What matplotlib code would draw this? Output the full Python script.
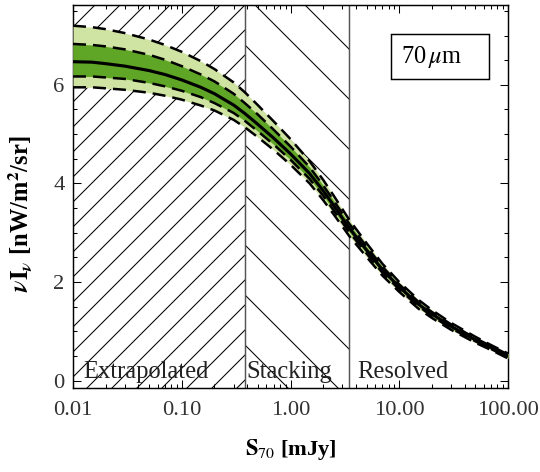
import matplotlib
matplotlib.use("Agg")
import matplotlib.pyplot as plt
from matplotlib.patches import Rectangle
from matplotlib.ticker import FixedLocator, FixedFormatter, MultipleLocator, LogLocator, NullFormatter

# ---------------- data ----------------
flux = [0.01, 0.015, 0.02, 0.03, 0.05, 0.07, 0.1, 0.15, 0.2, 0.3, 0.38, 0.5, 0.7,
        1.0, 1.5, 2.0, 2.5, 3.45, 5.0, 7.0, 10.0, 15.0, 20.0, 30.0, 50.0, 70.0, 100.0]
nuI_mid = [6.47, 6.46, 6.43, 6.38, 6.29, 6.21, 6.10, 5.95, 5.82, 5.59, 5.42, 5.20, 4.92,
           4.60, 4.20, 3.85, 3.55, 3.10, 2.65, 2.25, 1.90, 1.55, 1.35, 1.10, 0.83, 0.67, 0.50]
nuI_hi1 = [6.83, 6.81, 6.78, 6.72, 6.61, 6.51, 6.38, 6.21, 6.07, 5.82, 5.63, 5.40, 5.09,
           4.75, 4.33, 3.96, 3.65, 3.19, 2.72, 2.31, 1.95, 1.60, 1.39, 1.14, 0.86, 0.70, 0.53]
nuI_lo1 = [6.17, 6.17, 6.15, 6.12, 6.04, 5.97, 5.88, 5.75, 5.63, 5.43, 5.27, 5.06, 4.79,
           4.48, 4.09, 3.75, 3.45, 3.02, 2.58, 2.19, 1.85, 1.51, 1.31, 1.06, 0.80, 0.64, 0.47]
nuI_hi2 = [7.20, 7.17, 7.13, 7.05, 6.92, 6.81, 6.67, 6.48, 6.32, 6.05, 5.85, 5.59, 5.26,
           4.90, 4.45, 4.07, 3.75, 3.27, 2.79, 2.37, 2.00, 1.64, 1.43, 1.17, 0.89, 0.72, 0.55]
nuI_lo2 = [5.95, 5.95, 5.93, 5.90, 5.84, 5.78, 5.70, 5.58, 5.48, 5.29, 5.14, 4.94, 4.68,
           4.38, 4.00, 3.66, 3.37, 2.94, 2.51, 2.13, 1.80, 1.46, 1.27, 1.03, 0.77, 0.62, 0.45]

stack_lo = 0.38   # mJy, extrapolated / stacking boundary
stack_hi = 3.45   # mJy, stacking / resolved boundary
region_labels = ["Extrapolated", "Stacking", "Resolved"]
region_x = [0.0124, 0.39, 4.1]

xticks = [0.01, 0.1, 1.0, 10.0, 100.0]
xticklabels = ["0.01", "0.10", "1.00", "10.00", "100.00"]
yticks = [0, 2, 4, 6]

# ---------------- style ----------------
DPI = 300
plt.rcParams['font.family'] = ['Liberation Serif', 'DejaVu Serif']
plt.rcParams['mathtext.fontset'] = 'stix'
plt.rcParams['hatch.linewidth'] = 0.25
FS = 5.4
FS_TXT = 5.9

fig = plt.figure(figsize=(540 / DPI, 472 / DPI), dpi=DPI)
ax = fig.add_axes([73 / 540, 1 - 388 / 472, 435 / 540, 383 / 472])
ax.set_xscale('log')
ax.set_xlim(0.01, 100)
ax.set_ylim(-0.15, 7.62)

# hatched regions
ax.axvspan(0.01, stack_lo, facecolor='none', edgecolor='black', hatch='////', lw=0, zorder=1)
ax.axvspan(stack_lo, stack_hi, facecolor='none', edgecolor='black', hatch='\\\\', lw=0, zorder=1)
for xb in (stack_lo, stack_hi):
    ax.axvline(xb, color='#555555', lw=0.35, zorder=2)

light = '#cfe3a2'
dark = '#5fa526'
ax.fill_between(flux, nuI_lo2, nuI_hi2, color=light, lw=0, zorder=3)
ax.fill_between(flux, nuI_lo1, nuI_hi1, color=dark, lw=0, zorder=4)
dash_lw = 0.6
for arr in (nuI_hi2, nuI_hi1, nuI_lo1, nuI_lo2):
    ax.plot(flux, arr, color='black', lw=dash_lw, dashes=(5.2, 2.8), zorder=5)
ax.plot(flux, nuI_mid, color='black', lw=0.75, zorder=6)

for lab, xx in zip(region_labels, region_x):
    ax.text(xx, 0.05, lab, fontsize=FS_TXT, color='#222222', va='baseline', ha='left', zorder=7)

# label box
ax.add_patch(Rectangle((0.731, 0.807), 0.225, 0.117, transform=ax.transAxes,
                       fill=False, edgecolor='black', lw=0.35, zorder=8))
ax.text(0.823, 0.8655, r'70$\,\mu$m', transform=ax.transAxes, fontsize=FS_TXT,
        ha='center', va='center', zorder=8)

# ticks
ax.xaxis.set_major_locator(FixedLocator(xticks))
ax.xaxis.set_major_formatter(FixedFormatter(xticklabels))
ax.xaxis.set_minor_locator(LogLocator(base=10, subs=range(2, 10), numticks=20))
ax.xaxis.set_minor_formatter(NullFormatter())
ax.yaxis.set_major_locator(FixedLocator(yticks))
ax.yaxis.set_minor_locator(MultipleLocator(0.5))
ax.tick_params(which='both', direction='in', top=True, right=True, width=0.25,
               labelsize=FS, labelcolor='#333333')
ax.tick_params(which='major', length=1.9)
ax.tick_params(which='minor', length=1.0)
ax.tick_params(axis='x', pad=3.2)
ax.tick_params(axis='y', pad=2.0)
for sp in ax.spines.values():
    sp.set_linewidth(0.35)

ax.set_xlabel(r'$\mathbf{S}_{\mathrm{70}}$ [mJy]', fontsize=FS, fontweight='bold', labelpad=4)
ax.set_ylabel(r'$\mathbfit{\nu}\mathbf{I}_{\mathbfit{\nu}}$ [nW/m$^{\mathbf{2}}$/sr]',
              fontsize=5.9, fontweight='bold')
ax.yaxis.set_label_coords(-0.09, 0.455)

fig.savefig('out.png', dpi=DPI)
